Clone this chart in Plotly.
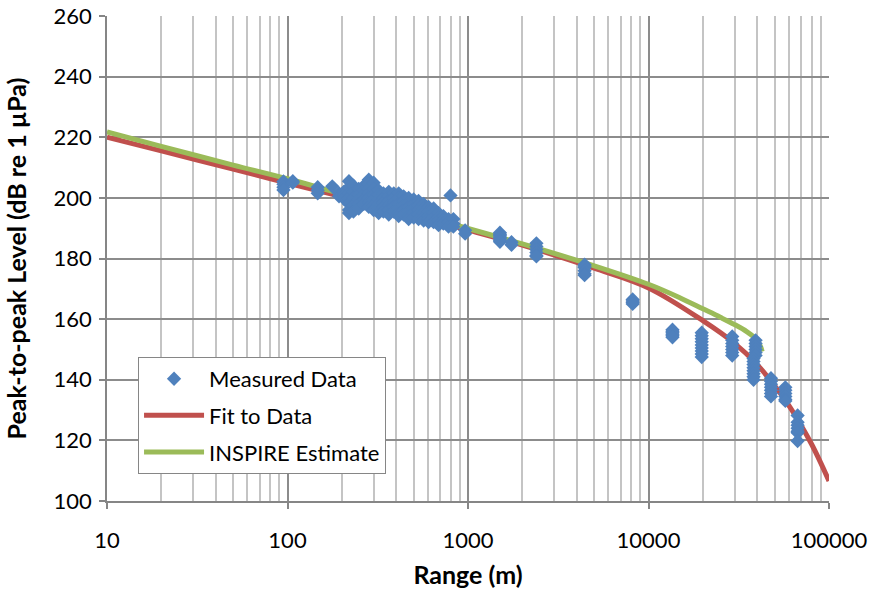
import plotly.graph_objects as go

# ---- Measured data: (range in m, peak-to-peak level in dB) ----
meas_range = (
    [95] * 4 + [107] * 2 + [147] * 3 + [177]
    + [193] * 2 + [205] * 3 + [219] * 7 + [232] * 5 + [248] * 5 + [265] * 5
    + [282] * 7 + [300] * 6 + [320] * 6 + [340] * 5 + [364] * 6 + [388] * 5
    + [413] * 6 + [440] * 5 + [469] * 6 + [500] * 5 + [532] * 5 + [568] * 5
    + [605] * 5 + [645] * 4 + [687] * 4 + [730] * 3 + [780] * 3 + [800] + [830] * 3
    + [964] * 2 + [1503] * 7 + [1742] * 2 + [2393] * 6 + [4426] * 6 + [8170] * 4
    + [13580] * 6 + [19720] * 9 + [29100] * 7
    + [39200] * 6 + [38200] * 8 + [47700] * 7 + [57300] * 6 + [67000] * 7
)
meas_level = (
    [205.4, 204.5, 203.5, 202.6] + [205.5, 205.0] + [203.5, 202.5, 201.5] + [203.8]
    + [201.5, 200.5] + [202.0, 200.8, 199.8]
    + [205.5, 203.5, 201.5, 200.0, 198.0, 196.0, 195.0]
    + [204.0, 202.0, 200.0, 197.5, 195.5]
    + [203.0, 201.0, 199.5, 198.0, 196.5]
    + [204.0, 202.5, 201.0, 199.5, 198.0]
    + [206.0, 204.5, 203.0, 201.5, 200.0, 198.5, 197.0]
    + [205.0, 203.0, 201.0, 199.5, 197.5, 196.0]
    + [202.5, 201.0, 199.5, 198.0, 196.5, 195.0]
    + [201.5, 200.0, 198.5, 197.0, 195.5]
    + [202.0, 200.5, 199.0, 197.5, 196.0, 194.5]
    + [201.5, 200.0, 198.5, 197.0, 195.5]
    + [201.5, 200.0, 198.0, 196.5, 195.0, 194.0]
    + [200.5, 199.0, 197.5, 196.0, 194.5]
    + [200.0, 198.5, 197.0, 195.5, 194.0, 193.0]
    + [199.5, 198.0, 196.5, 195.0, 193.5]
    + [199.0, 197.5, 196.0, 194.5, 193.0]
    + [198.0, 196.5, 195.0, 193.5, 192.5]
    + [197.0, 195.5, 194.0, 193.0, 192.0]
    + [196.5, 195.0, 193.5, 192.0]
    + [195.0, 193.5, 192.5, 191.0]
    + [194.0, 192.5, 191.5]
    + [193.0, 192.0, 190.5]
    + [200.8]
    + [193.0, 191.5, 190.5]
    + [189.3, 188.2]
    + [188.5, 188.0, 187.5, 187.0, 186.5, 186.0, 185.5]
    + [185.4, 184.5]
    + [185.0, 184.0, 183.0, 182.0, 181.0, 180.7]
    + [178.0, 177.5, 177.0, 176.0, 175.0, 174.5]
    + [166.5, 166.0, 165.5, 165.0]
    + [156.5, 156.0, 155.5, 155.0, 154.5, 154.0]
    + [155.5, 154.5, 153.5, 152.5, 151.5, 150.5, 149.5, 148.5, 147.5]
    + [154.3, 153.0, 152.0, 151.0, 150.0, 149.0, 148.0]
    + [153.0, 152.0, 151.0, 150.0, 149.0, 148.0]
    + [147.0, 146.0, 145.0, 144.0, 143.0, 142.0, 141.0, 140.0]
    + [140.5, 139.5, 138.5, 137.5, 136.5, 135.5, 134.5]
    + [137.5, 136.5, 135.5, 134.5, 133.5, 133.0]
    + [128.2, 126.0, 125.0, 124.0, 123.0, 122.5, 119.8]
)

# ---- Fit to data curve ----
fit_range = [10, 20, 50, 100, 200, 500, 1000, 2000, 5000, 10000, 20000,
             30000, 40000, 50000, 60000, 70000, 80000, 90000, 100000]
fit_level = [220.0, 215.5, 209.5, 204.9, 200.4, 194.2, 189.4, 184.4, 176.8,
             170.3, 159.5, 152.0, 145.0, 138.0, 131.5, 125.0, 118.8, 112.6, 106.6]

# ---- INSPIRE estimate curve ----
insp_range = [10, 20, 50, 100, 200, 500, 1000, 2000, 5000, 10000, 15000,
              20000, 25000, 30000, 35000, 38500, 40500, 42000, 42600]
insp_level = [221.8, 217.0, 210.8, 206.3, 201.3, 194.8, 189.9, 184.8, 177.6,
              171.5, 167.0, 163.4, 160.6, 158.2, 155.9, 154.0, 152.3, 150.6, 149.3]

x_ticks = [10, 100, 1000, 10000, 100000]
y_ticks = [100, 120, 140, 160, 180, 200, 220, 240, 260]

BLUE = "#4F81BD"
RED = "#C0504D"
GREEN = "#9BBB59"
FONT = "Lato"
TICK_SIZE = 22
TITLE_SIZE = 25

fig = go.Figure()

fig.add_trace(go.Scatter(
    x=fit_range, y=fit_level, mode="lines", name="Fit to Data",
    line=dict(color=RED, width=5, shape="spline"),
    legendgroup="b", legendrank=2,
))
fig.add_trace(go.Scatter(
    x=insp_range, y=insp_level, mode="lines", name="INSPIRE Estimate",
    line=dict(color=GREEN, width=5, shape="spline"),
    legendgroup="c", legendrank=3,
))
fig.add_trace(go.Scatter(
    x=meas_range, y=meas_level, mode="markers", name="Measured Data",
    marker=dict(symbol="diamond", size=11, color=BLUE),
    legendgroup="a", legendrank=1,
))

axis_common = dict(
    showline=True, linecolor="#868686", linewidth=1.5,
    ticks="outside", ticklen=6, tickcolor="#868686", tickwidth=1.5,
    gridcolor="#8C8C8C", gridwidth=1.5,
    zeroline=False, mirror=False, automargin=False,
    ticklabeloverflow="allow",
    tickfont=dict(family=FONT, size=TICK_SIZE, color="#000000"),
)

fig.update_xaxes(
    type="log", range=[1, 5],
    tickvals=x_ticks, ticktext=[str(v) for v in x_ticks],
    ticklabelstandoff=13,
    minor=dict(showgrid=True, gridcolor="#C4C4C4", gridwidth=1.5,
               dtick="D1", ticks=""),
    title=dict(text="<b>Range (m)</b>",
               font=dict(family=FONT, size=TITLE_SIZE, color="#000000"),
               standoff=14),
    **axis_common,
)
fig.update_yaxes(
    range=[100, 260], tickvals=y_ticks,
    ticklabelstandoff=3,
    title=dict(text="<b>Peak-to-peak Level (dB re 1 µPa)</b>",
               font=dict(family=FONT, size=TITLE_SIZE, color="#000000"),
               standoff=20),
    **axis_common,
)

fig.update_layout(
    width=869, height=591,
    margin=dict(l=107, r=40, t=16, b=90),
    plot_bgcolor="white", paper_bgcolor="white",
    showlegend=True,
    legend=dict(
        x=0.043, y=0.297, xanchor="left", yanchor="top",
        bgcolor="white", bordercolor="#868686", borderwidth=1,
        font=dict(family=FONT, size=TICK_SIZE, color="#000000"),
        traceorder="grouped", tracegroupgap=5, itemwidth=60,
    ),
)

fig.write_html("out.html")
